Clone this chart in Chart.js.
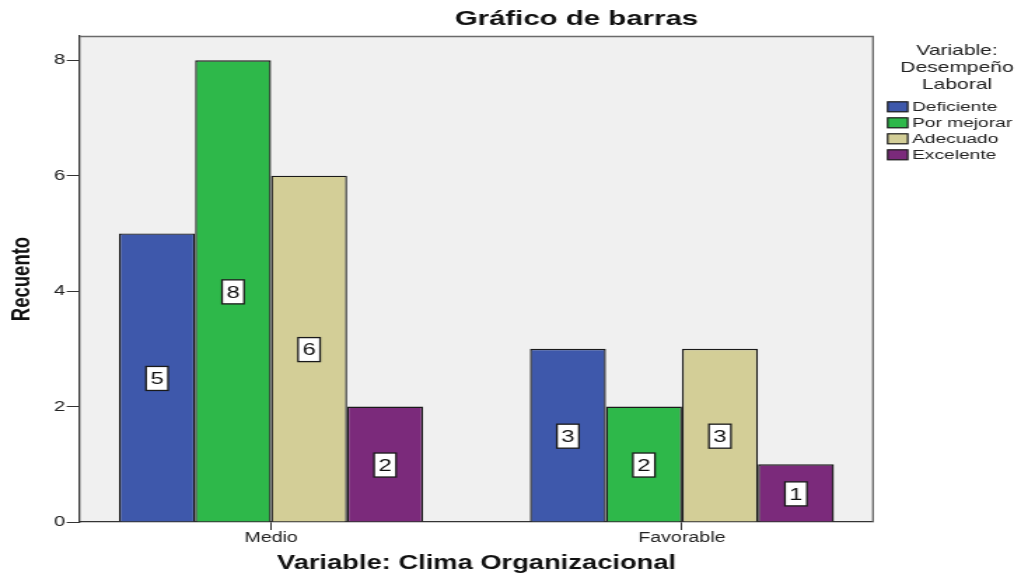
<!DOCTYPE html>
<html><head><meta charset="utf-8">
<script src="https://cdn.jsdelivr.net/npm/chart.js@4.4.1/dist/chart.umd.min.js"></script>
<style>
html,body{margin:0;padding:0;background:#fff;overflow:hidden;width:1021px;height:575px;}
#c{position:absolute;left:0;top:0;transform-origin:0 0;}
</style></head><body>
<canvas id="c" width="729" height="575"></canvas>
<script>
// ---- data ----
const categories = ['Medio', 'Favorable'];
const seriesNames = ['Deficiente', 'Por mejorar', 'Adecuado', 'Excelente'];
const deficiente = [5, 3];
const porMejorar = [8, 2];
const adecuado = [6, 3];
const excelente = [2, 1];
const yTicks = [0, 2, 4, 6, 8];
const chartTitle = 'Gráfico de barras';
const xTitle = 'Variable: Clima Organizacional';
const yTitle = 'Recuento';
const legendTitle = ['Variable:', 'Desempeño', 'Laboral'];

const seriesValues = [deficiente, porMejorar, adecuado, excelente];
const seriesColors = ['#3e58ab', '#2eb84a', '#d3ce97', '#7b2a7b'];

const FONT = '"Liberation Sans", Arial, sans-serif';
const SX = 1021 / 729;
const canvas = document.getElementById('c');
canvas.style.transform = 'scaleX(' + SX + ')';

const AREA_LEFT = 80 / SX, AREA_RIGHT = 873 / SX;

const bgPlugin = {
  id: 'bg',
  beforeDraw(chart) {
    const {ctx, chartArea: a} = chart;
    ctx.save();
    ctx.fillStyle = '#fff';
    ctx.fillRect(0, 0, chart.width, chart.height);
    ctx.fillStyle = '#f0f0f0';
    ctx.fillRect(a.left, a.top, a.right - a.left, a.bottom - a.top);
    ctx.restore();
  },
  beforeDatasetsDraw(chart) {
    const {ctx, chartArea: a} = chart;
    ctx.save();
    ctx.strokeStyle = '#6a6a6a';
    ctx.lineWidth = 1.3;
    ctx.beginPath();
    ctx.moveTo(a.left, a.top + 0.5);
    ctx.lineTo(a.right, a.top + 0.5);
    ctx.lineTo(a.right, a.bottom);
    ctx.stroke();
    ctx.restore();
  }
};

const labelPlugin = {
  id: 'valueBoxes',
  afterDatasetsDraw(chart) {
    const ctx = chart.ctx;
    ctx.save();
    chart.data.datasets.forEach((ds, di) => {
      const meta = chart.getDatasetMeta(di);
      meta.data.forEach((el, i) => {
        const v = ds.data[i].y;
        const cx = el.x, cy = (el.y + el.base) / 2 + 1;
        const w = 15.7, h = 24;
        ctx.fillStyle = '#fff';
        ctx.fillRect(cx - w / 2, cy - h / 2, w, h);
        ctx.strokeStyle = '#1a1a1a';
        ctx.lineWidth = 1.3;
        ctx.strokeRect(cx - w / 2, cy - h / 2, w, h);
        ctx.fillStyle = '#111';
        ctx.font = '17px ' + FONT;
        ctx.textAlign = 'center';
        ctx.textBaseline = 'middle';
        ctx.fillText(String(v), cx, cy + 1);
      });
    });
    ctx.restore();
  }
};

const textPlugin = {
  id: 'texts',
  afterDraw(chart) {
    const ctx = chart.ctx;
    ctx.save();
    ctx.fillStyle = '#111';
    ctx.font = 'bold 21px ' + FONT;
    ctx.textAlign = 'center';
    ctx.textBaseline = 'middle';
    ctx.fillText(chartTitle, 411.6, 19);
    ctx.fillStyle = '#222';
    ctx.font = '15px ' + FONT;
    legendTitle.forEach((t, i) => ctx.fillText(t, 683.3, 51 + i * 17));
    ctx.textAlign = 'left';
    ctx.font = '13.7px ' + FONT;
    chart.data.datasets.forEach((ds, i) => {
      const cy = 106.8 + i * 16;
      ctx.fillStyle = ds.backgroundColor;
      ctx.fillRect(633.8, cy - 5, 14.3, 10);
      ctx.strokeStyle = '#1a1a1a';
      ctx.lineWidth = 1.2;
      ctx.strokeRect(633.8, cy - 5, 14.3, 10);
      ctx.fillStyle = '#222';
      ctx.fillText(ds.label, 651.2, cy + 0.5);
    });
    ctx.restore();
  }
};

new Chart(canvas, {
  type: 'bar',
  data: {
    datasets: seriesNames.map((name, si) => ({
      label: name,
      data: categories.map((c, ci) => ({x: ci, y: seriesValues[si][ci]})),
      backgroundColor: seriesColors[si],
      borderColor: '#1a1a1a',
      borderWidth: 1.4,
      categoryPercentage: 0.74,
      barPercentage: 1.0
    }))
  },
  options: {
    responsive: false,
    animation: false,
    devicePixelRatio: 1,
    layout: {padding: {left: 0, right: 729 - AREA_RIGHT, top: 36, bottom: 0}},
    plugins: {legend: {display: false}, title: {display: false}, tooltip: {enabled: false}},
    scales: {
      x: {
        type: 'linear',
        offset: false,
        min: -0.465,
        max: 1.465,
        afterBuildTicks: s => { s.ticks = categories.map((c, i) => ({value: i})); },
        ticks: {
          callback: v => categories[v] ?? '',
          font: {family: FONT, size: 14},
          color: '#222',
          padding: 0,
          maxRotation: 0,
          autoSkip: false
        },
        grid: {offset: false, drawOnChartArea: false, drawTicks: true, tickLength: 8, tickColor: '#333'},
        border: {display: true, color: '#333', width: 1.3},
        title: {display: true, text: xTitle, color: '#111', font: {family: FONT, size: 19.5, weight: 'bold'}, padding: {top: 0, bottom: 0}},
        afterFit: s => { s.height = 575 - 522; }
      },
      y: {
        min: 0,
        max: 8.42,
        afterBuildTicks: s => { s.ticks = yTicks.map(v => ({value: v})); },
        ticks: {font: {family: FONT, size: 14.5}, color: '#222', padding: 1},
        grid: {drawOnChartArea: false, drawTicks: true, tickLength: 9.5, tickColor: '#333'},
        border: {display: true, color: '#333', width: 1.3},
        title: {display: true, text: yTitle, color: '#111', font: {family: FONT, size: 18.5, weight: 'bold'}, padding: {top: 5.3, bottom: 0}},
        afterFit: s => { s.width = AREA_LEFT; }
      }
    }
  },
  plugins: [bgPlugin, labelPlugin, textPlugin]
});
</script>
</body></html>
